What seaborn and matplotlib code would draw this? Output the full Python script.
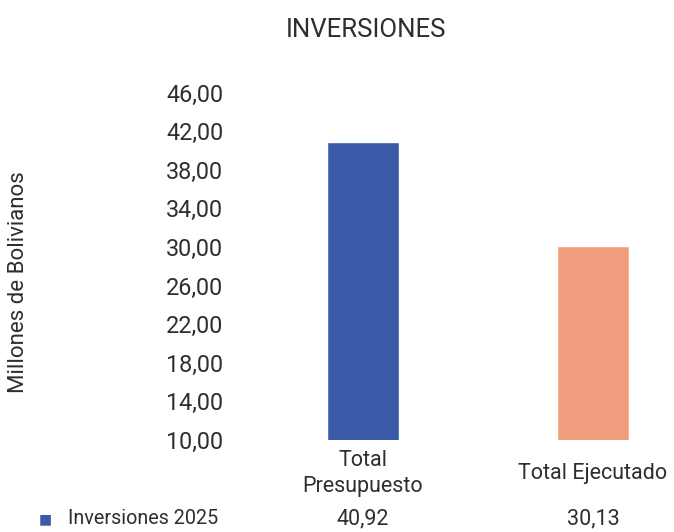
import matplotlib.pyplot as plt
import matplotlib.ticker as mticker
import pandas as pd
import seaborn as sns

# Chart data
categories = ["Total\nPresupuesto", "Total Ejecutado"]
values = [40.92, 30.13]
series_name = "Inversiones 2025"
bar_colors = ["#3a5aa8", "#f09e7d"]
y_ticks = [10, 14, 18, 22, 26, 30, 34, 38, 42, 46]

sns.set_theme(style="white")
plt.rcParams["font.family"] = ["Roboto", "DejaVu Sans"]
text_color = "#2e2e2e"


def fmt_es(v, _pos=None):
    return f"{v:.2f}".replace(".", ",")


df = pd.DataFrame({"categoria": categories, "valor": values})

fig = plt.figure(figsize=(6.74, 5.32), dpi=100)
ax = fig.add_axes([240 / 674, (532 - 440) / 532, 434 / 674, (440 - 83) / 532])

sns.barplot(
    data=df,
    x="categoria",
    y="valor",
    hue="categoria",
    palette=bar_colors,
    saturation=1,
    width=0.31,
    legend=False,
    ax=ax,
)

ax.set_ylim(10, 47)
ax.set_xlim(-0.535, 1.352)
ax.yaxis.set_major_locator(mticker.FixedLocator(y_ticks))
ax.yaxis.set_major_formatter(mticker.FuncFormatter(fmt_es))
ax.tick_params(axis="y", labelsize=16.8, colors=text_color, length=0, pad=12)
ax.tick_params(axis="x", labelsize=15.5, colors=text_color, length=0, pad=24)
for lbl in ax.get_xticklabels():
    lbl.set_linespacing(1.3)
    lbl.set_verticalalignment("center")
for s in ax.spines.values():
    s.set_visible(False)
ax.set_xlabel("")
ax.set_ylabel("")

fig.text(19 / 674, 1 - 282 / 532, "Millones de Bolivianos", rotation=90,
         ha="center", va="center", fontsize=16, color=text_color)
fig.text(366 / 674, 1 - 30 / 532, "INVERSIONES", ha="center", va="center",
         fontsize=18.5, color=text_color)

# Data table row under the chart
row_y = 1 - 519 / 532
fig.text(45 / 674, row_y, "■", ha="center", va="center", fontsize=10,
         color=bar_colors[0])
fig.text(68 / 674, row_y, series_name, ha="left", va="center", fontsize=14.2,
         color=text_color)
for i, v in enumerate(values):
    ax.text(i, (row_y * 532 - 92) / (440 - 83), fmt_es(v),
            transform=ax.get_xaxis_transform(), ha="center", va="center",
            fontsize=15.5, color=text_color)

fig.savefig("out.png", dpi=100)
